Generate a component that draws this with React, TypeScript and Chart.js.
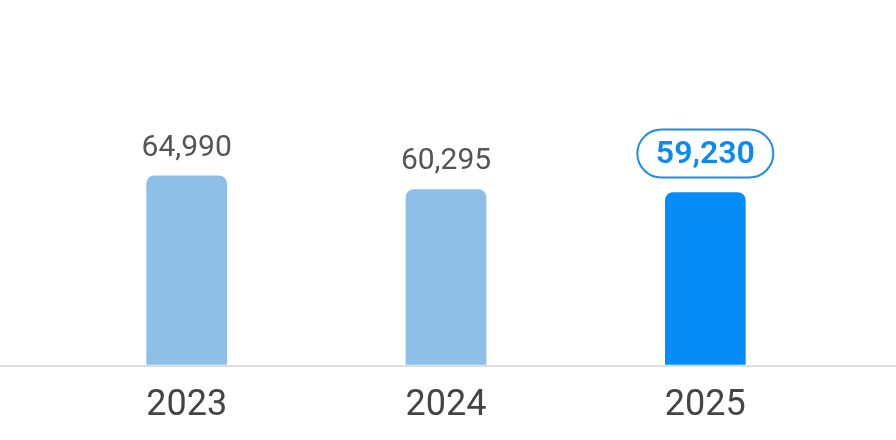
import React, { useEffect, useRef } from "react";
import Chart from "chart.js/auto";

const years = ["2023", "2024", "2025"];
const counts = [64990, 60295, 59230];
const highlightIndex = 2;

const FONT = "Roboto, 'Noto Sans', sans-serif";

// full-width baseline under the bars
const baselinePlugin = {
  id: "baseline",
  afterDatasetsDraw(chart) {
    const { ctx, scales } = chart;
    const y = Math.round(scales.y.getPixelForValue(0)) + 1;
    ctx.save();
    ctx.strokeStyle = "#dddddd";
    ctx.lineWidth = 2;
    ctx.beginPath();
    ctx.moveTo(0, y);
    ctx.lineTo(chart.width, y);
    ctx.stroke();
    ctx.restore();
  },
};

// value labels above bars, the last one in a pill
const valueLabelPlugin = {
  id: "valueLabels",
  afterDatasetsDraw(chart) {
    const { ctx } = chart;
    const meta = chart.getDatasetMeta(0);
    const values = chart.data.datasets[0].data;
    ctx.save();
    ctx.textAlign = "center";
    meta.data.forEach((bar, i) => {
      const text = Number(values[i]).toLocaleString("en-US");
      if (i === highlightIndex) {
        const w = 136;
        const h = 48;
        const cy = bar.y - 15 - h / 2;
        ctx.beginPath();
        ctx.roundRect(bar.x - w / 2, cy - h / 2, w, h, h / 2);
        ctx.fillStyle = "#ffffff";
        ctx.fill();
        ctx.lineWidth = 2;
        ctx.strokeStyle = "#1a8cf0";
        ctx.stroke();
        ctx.font = `600 32px ${FONT}`;
        ctx.fillStyle = "#0b8af2";
        ctx.textBaseline = "middle";
        ctx.fillText(text, bar.x, cy + 1);
      } else {
        ctx.font = `400 30px ${FONT}`;
        ctx.fillStyle = "#555555";
        ctx.textBaseline = "alphabetic";
        ctx.fillText(text, bar.x, bar.y - 20);
      }
    });
    ctx.restore();
  },
};

const YearBarChart = () => {
  const chartRef = useRef(null);

  useEffect(() => {
    document.body.style.margin = "0";
    const ctx = chartRef.current.getContext("2d");
    const chart = new Chart(ctx, {
      type: "bar",
      data: {
        labels: years,
        datasets: [
          {
            data: counts,
            backgroundColor: counts.map((_, i) => (i === highlightIndex ? "#068cf7" : "#8ebfe6")),
            barThickness: 80,
            borderRadius: 8,
            borderSkipped: "start",
          },
        ],
      },
      options: {
        animation: false,
        responsive: true,
        maintainAspectRatio: false,
        layout: {
          padding: { top: 74, left: 57, right: 61, bottom: -8 },
        },
        plugins: {
          legend: { display: false },
          tooltip: { enabled: false },
        },
        scales: {
          x: {
            grid: { display: false, drawTicks: false },
            border: { display: false },
            ticks: {
              padding: 20,
              color: "#444444",
              font: { family: FONT, size: 36, weight: "400" },
            },
          },
          y: {
            display: false,
            min: 0,
            max: 100000,
          },
        },
      },
      plugins: [baselinePlugin, valueLabelPlugin],
    });

    return () => {
      chart.destroy();
    };
  }, []);

  return (
    <div style={{ position: "relative", width: "896px", height: "440px" }}>
      <canvas ref={chartRef} />
    </div>
  );
};

export default function App() {
  return <YearBarChart />;
}
